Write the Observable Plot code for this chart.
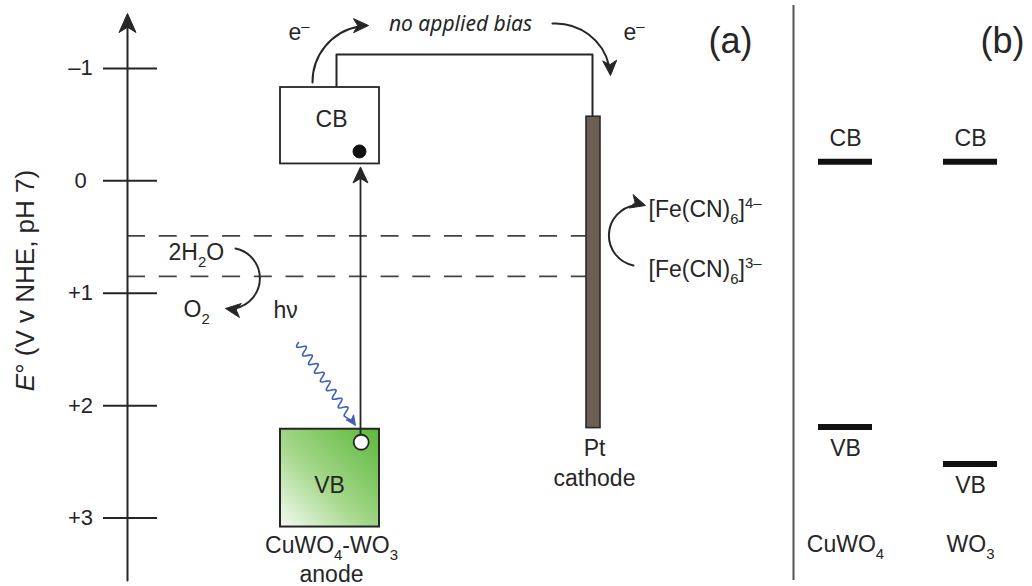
<!DOCTYPE html>
<html>
<head>
<meta charset="utf-8">
<script src="https://cdn.jsdelivr.net/npm/d3@7"></script>
<script src="https://cdn.jsdelivr.net/npm/@observablehq/plot@0.6"></script>
<style>
  html, body { margin: 0; padding: 0; background: #fff; }
  #chart svg { display: block; }
</style>
</head>
<body>
<div id="chart"></div>
<script>
// ---- Data ---------------------------------------------------------------
// Potential axis, V vs NHE at pH 7 (more negative potentials drawn higher)
const potentialTicks = [-1, 0, 1, 2, 3];
const potentialTickLabels = ["–1", "0", "+1", "+2", "+3"];

// Solution redox couples, drawn as dashed levels
const redoxCouples = ["[Fe(CN)6]3–/4–", "O2/H2O"];
const redoxPotentials = [0.49, 0.85];

// CuWO4-WO3 photoanode: conduction-band box and valence-band box (top, bottom), V
const anodeCB = [-0.83, -0.15];
const anodeVB = [2.21, 3.08];

// Pt cathode extent (top, bottom), V
const cathodeSpan = [-0.57, 2.2];

// Panel (b): band edges of the individual oxides, V
const materials = ["CuWO_{4}", "WO_{3}"];
const cbEdges = [-0.17, -0.17];
const vbEdges = [2.19, 2.52];

// ---- Layout ---------------------------------------------------------------
const W = 1032, H = 586;
const yDomain = [-1.604, 3.609];
const yScale = Plot.scale({y: {domain: yDomain, range: [0, H]}});
const toPx = (v) => yScale.apply(v);
const toV = (p) => yScale.invert(p);

const ink = "#262626";
const blue = "#3f5fb5";
const font = "'Liberation Sans', Arial, Helvetica, sans-serif";
const axisX = 127;
const boxX = [280, 379];
const carrierX = 360;
const wireX = [336, 592];
const wireTop = toV(54);
const ptX = [586, 600];
const colX = [845, 970];
const levelHalf = 27;
const dividerX = 793;

// carriers sit just inside the band boxes
const holeY = toV(toPx(anodeVB[0]) + 13);
const electronY = toV(toPx(anodeCB[1]) - 12.5);

// ---- Arrow geometry -------------------------------------------------------
const axisArrow = {x1: axisX, y1: toV(580), x2: axisX, y2: toV(13), bend: 0};
const exciteArrow = {x1: carrierX, y1: toV(toPx(holeY) - 7.5), x2: carrierX, y2: toV(toPx(anodeCB[1]) + 3), bend: 0};
const curvedArrows = [
  {x1: 312, y1: toV(82), x2: 368, y2: toV(25), bend: 45},   // e– leaving the anode
  {x1: 552, y1: toV(23), x2: 610, y2: toV(75), bend: 45},   // e– reaching the cathode
  {x1: 235, y1: toV(248), x2: 225, y2: toV(308), bend: 88}, // water oxidation
  {x1: 633, y1: toV(265), x2: 645, y2: toV(205), bend: 95}  // ferricyanide reduction
];

// screen angle of travel at an arrow's end
function endAngle(a) {
  return Math.atan2(toPx(a.y2) - toPx(a.y1), a.x2 - a.x1) + (a.bend || 0) * Math.PI / 180;
}

// filled, notched arrowhead as a dot symbol, tip at the dot's position
function headSymbol(ang, len, r) {
  const c = Math.cos(ang), s = Math.sin(ang);
  const P = (a, b) => [a * c - b * s, a * s + b * c];
  return {
    draw(context) {
      const pts = [P(0, 0), P(-len, -r), P(-len * 0.72, 0), P(-len, r)];
      context.moveTo(...pts[0]);
      for (const p of pts.slice(1)) context.lineTo(...p);
      context.closePath();
    }
  };
}
const headMark = (a, len, r, color) =>
  Plot.dot([{x: a.x2, y: a.y2}], {x: "x", y: "y", symbol: headSymbol(endAngle(a), len, r), fill: color, stroke: color, strokeWidth: 1});

// incoming photon: a squiggle ending in an arrowhead
const photon = {x1: 298, y1: 342, x2: 355, y2: 425};
const photonPath = (() => {
  const dx = photon.x2 - photon.x1, dy = photon.y2 - photon.y1;
  const L = Math.hypot(dx, dy), ux = dx / L, uy = dy / L, nx = -uy, ny = ux;
  const pts = [];
  for (let s = 0; s <= L - 14; s += 0.5) {
    const o = 4 * Math.sin(2 * Math.PI * s / 10.5);
    pts.push({x: photon.x1 + ux * s + nx * o, y: toV(photon.y1 + uy * s + ny * o)});
  }
  pts.push({x: photon.x1 + ux * (L - 5), y: toV(photon.y1 + uy * (L - 5))});
  return pts;
})();
const photonArrow = {x1: photon.x1, y1: toV(photon.y1), x2: photon.x2, y2: toV(photon.y2), bend: 0};

// external circuit wire
const wirePath = [
  {x: wireX[0], y: anodeCB[0]},
  {x: wireX[0], y: wireTop},
  {x: wireX[1], y: wireTop},
  {x: wireX[1], y: cathodeSpan[0]}
];

// panel (b) band levels
const levels = materials.flatMap((m, i) => [
  {material: m, band: "CB", E: cbEdges[i], x: colX[i]},
  {material: m, band: "VB", E: vbEdges[i], x: colX[i]}
]);

// panel (a) text labels (markup: _{sub}, ^{sup}, *{italic})
const labelsMiddle = [
  {text: "CB", x: 331, y: toV(119.6)},
  {text: "VB", x: 329, y: toV(485.6)},
  {text: "CuWO_{4}-WO_{3}", x: 331, y: toV(545.6)},
  {text: "anode", x: 331, y: toV(574.6)},
  {text: "Pt", x: 594, y: toV(448.6)},
  {text: "cathode", x: 594, y: toV(478.6)}
];
const labelsStart = [
  {text: "e^{–}", x: 288, y: toV(32.5)},
  {text: "e^{–}", x: 623, y: toV(32.5)},
  {text: "2H_{2}O", x: 168, y: toV(252.6)},
  {text: "O_{2}", x: 183, y: toV(309.6)},
  {text: "hν", x: 273, y: toV(310.6)},
  {text: "[Fe(CN)_{6}]^{4–}", x: 648, y: toV(209.6)},
  {text: "[Fe(CN)_{6}]^{3–}", x: 648, y: toV(269.6)}
];

const arrowOpts = {x1: "x1", y1: "y1", x2: "x2", y2: "y2", stroke: ink, strokeWidth: 2, headLength: 0};

const svg = Plot.plot({
  width: W,
  height: H,
  margin: 0,
  x: {domain: [0, W], range: [0, W], axis: null},
  y: {domain: yDomain, range: [0, H]},
  style: {fontFamily: font, color: ink, background: "#fff"},
  marks: [
    // dashed redox levels between the potential axis and the cathode
    Plot.ruleY(redoxPotentials, {x1: axisX, x2: ptX[0], stroke: "#444", strokeWidth: 1.8, strokeDasharray: "18,13.7"}),

    // potential axis
    Plot.arrow([axisArrow], {...arrowOpts, insetEnd: 13}),
    headMark(axisArrow, 19, 8.5, ink),
    Plot.ruleY(potentialTicks, {x1: 103, x2: 157, stroke: ink, strokeWidth: 2}),
    Plot.axisY({
      ticks: potentialTicks,
      tickFormat: (d) => potentialTickLabels[potentialTicks.indexOf(d)],
      anchor: "left", tickSize: 0, tickPadding: 0, textAnchor: "middle", dx: 80,
      fontSize: 22, fill: ink, label: null
    }),
    Plot.text(["*{E}° (V v NHE, pH 7)"], {x: 25, y: toV(280), rotate: -90, fontSize: 26, fill: ink}),

    // external circuit
    Plot.line(wirePath, {x: "x", y: "y", stroke: ink, strokeWidth: 2}),

    // Pt cathode
    Plot.rect([{x1: ptX[0], x2: ptX[1], y1: cathodeSpan[0], y2: cathodeSpan[1]}],
      {x1: "x1", x2: "x2", y1: "y1", y2: "y2", fill: "#6c5f52", stroke: "#2a2a2a", strokeWidth: 1.6}),

    // photoanode band boxes
    Plot.rect([{x1: boxX[0], x2: boxX[1], y1: anodeCB[0], y2: anodeCB[1]}],
      {x1: "x1", x2: "x2", y1: "y1", y2: "y2", fill: "#fff", stroke: ink, strokeWidth: 1.8}),
    Plot.rect([{x1: boxX[0], x2: boxX[1], y1: anodeVB[0], y2: anodeVB[1]}],
      {x1: "x1", x2: "x2", y1: "y1", y2: "y2", fill: "url(#vbGradient)", stroke: ink, strokeWidth: 2}),

    // photoexcitation: hole in VB, electron in CB
    Plot.arrow([exciteArrow], {...arrowOpts, strokeWidth: 1.8, insetEnd: 11}),
    headMark(exciteArrow, 16, 7.5, ink),
    Plot.dot([{x: carrierX + 0.7, y: holeY}], {x: "x", y: "y", r: 7.5, fill: "#fff", stroke: ink, strokeWidth: 1.8}),
    Plot.dot([{x: carrierX - 1, y: electronY}], {x: "x", y: "y", r: 6.5, fill: "#111", stroke: "#111", strokeWidth: 1}),

    // incoming light
    Plot.line(photonPath, {x: "x", y: "y", stroke: blue, strokeWidth: 1.6}),
    headMark(photonArrow, 10, 4.5, blue),

    // curved arrows for electron flow and redox reactions
    ...curvedArrows.map((a) => Plot.arrow([a], {...arrowOpts, bend: a.bend, insetEnd: 10})),
    ...curvedArrows.map((a) => headMark(a, 15, 7, ink)),

    // panel (a) labels
    Plot.text(labelsMiddle, {x: "x", y: "y", text: "text", fontSize: 23, fill: ink}),
    Plot.text(labelsStart, {x: "x", y: "y", text: "text", textAnchor: "start", fontSize: 23, fill: ink}),
    Plot.text(["no applied bias"], {x: 460, y: toV(23.5), fontSize: 21, fontStyle: "italic", fontFamily: "'Noto Sans', 'Open Sans', sans-serif", fill: ink}),
    Plot.text(["(a)"], {x: 708, y: toV(41), textAnchor: "start", fontSize: 36, fill: ink}),

    // divider between panels
    Plot.ruleX([dividerX], {y1: toV(5), y2: toV(580), stroke: "#555", strokeWidth: 2}),

    // panel (b): individual band edges
    Plot.text(["(b)"], {x: 980, y: toV(41), textAnchor: "start", fontSize: 36, fill: ink}),
    Plot.ruleY(levels, {y: "E", x1: (d) => d.x - levelHalf, x2: (d) => d.x + levelHalf, stroke: "#111", strokeWidth: 6}),
    Plot.text(levels.filter((d) => d.band === "CB"), {x: "x", y: "E", text: "band", dy: -23, fontSize: 23, fill: ink}),
    Plot.text(levels.filter((d) => d.band === "VB"), {x: "x", y: "E", text: "band", dy: 22, fontSize: 23, fill: ink}),
    Plot.text(materials, {x: (d, i) => colX[i], y: toV(544.6), fontSize: 23, fill: ink})
  ]
});

// green fill of the valence-band box
const defs = d3.select(svg).insert("defs", ":first-child");
const grad = defs.append("linearGradient").attr("id", "vbGradient")
  .attr("x1", 0).attr("y1", 1).attr("x2", 1).attr("y2", 0);
grad.append("stop").attr("offset", 0).attr("stop-color", "#f4faf1");
grad.append("stop").attr("offset", 0.45).attr("stop-color", "#a3d789");
grad.append("stop").attr("offset", 1).attr("stop-color", "#5db73b");

document.getElementById("chart").appendChild(svg);

// turn _{…}, ^{…} and *{…} markup into subscript, superscript and italic tspans
function applyRichText(root) {
  const NS = "http://www.w3.org/2000/svg";
  root.querySelectorAll("text").forEach((t) => {
    const s = t.textContent;
    if (!/[_^*]\{/.test(s)) return;
    const fs = parseFloat(getComputedStyle(t).fontSize) || 16;
    t.textContent = "";
    let shift = 0;
    const push = (txt, kind) => {
      const ts = document.createElementNS(NS, "tspan");
      ts.textContent = txt;
      let target = 0;
      if (kind === "_") { ts.setAttribute("font-size", (fs * 0.65).toFixed(2)); target = 0.3; }
      if (kind === "^") { ts.setAttribute("font-size", (fs * 0.65).toFixed(2)); target = -0.42; }
      if (kind === "*") ts.setAttribute("font-style", "italic");
      const d = target - shift;
      if (d) ts.setAttribute("dy", (d * fs).toFixed(2));
      shift = target;
      t.appendChild(ts);
    };
    const re = /([_^*])\{([^}]*)\}/g;
    let last = 0, m;
    while ((m = re.exec(s))) {
      if (m.index > last) push(s.slice(last, m.index), "");
      push(m[2], m[1]);
      last = re.lastIndex;
    }
    if (last < s.length) push(s.slice(last), "");
  });
}
applyRichText(svg);
</script>
</body>
</html>
